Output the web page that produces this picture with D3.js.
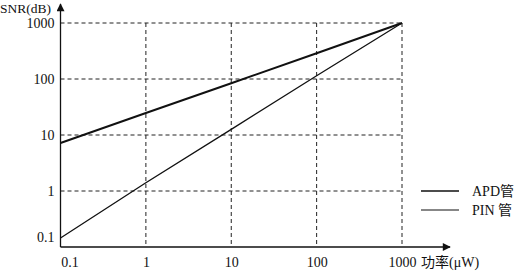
<!DOCTYPE html>
<html>
<head>
<meta charset="utf-8">
<script src="https://cdn.jsdelivr.net/npm/d3@7"></script>
<style>
  body { margin: 0; background: #fff; }
</style>
</head>
<body>
<div id="chart"></div>
<script>
// data
var powerTicks = [0.1, 1, 10, 100, 1000];
var snrTicks = [0.1, 1, 10, 100, 1000];
var power = [0.1, 1, 10, 100, 1000];
var apdSNR = [7.2, 24.7, 84, 288, 1000];
var pinSNR = [0.145, 1.4, 12.6, 114, 1000];
var seriesNames = ["APD管", "PIN 管"];

var width = 515, height = 274;
var serif = "'Liberation Serif', 'Times New Roman', 'Noto Sans CJK SC', serif";

var svg = d3.select("#chart")
  .append("svg")
    .attr("width", width)
    .attr("height", height);

var xScale = d3.scaleLog()
  .domain([0.1, 1000])
  .range([60.5, 402]);

var yScale = d3.scaleLog()
  .domain([0.1, 1000])
  .range([247, 23]);

var x0 = xScale(0.1), y0 = yScale(0.1);

//// grid (dashed)
svg.append("g")
  .selectAll("line")
  .data(powerTicks.slice(1))
  .enter().append("line")
    .attr("x1", d => xScale(d)).attr("x2", d => xScale(d))
    .attr("y1", yScale(1000)).attr("y2", y0)
    .attr("stroke", "#222").attr("stroke-width", 1)
    .attr("stroke-dasharray", "4,3");

svg.append("g")
  .selectAll("line")
  .data(snrTicks.slice(1))
  .enter().append("line")
    .attr("x1", x0).attr("x2", xScale(1000))
    .attr("y1", d => yScale(d)).attr("y2", d => yScale(d))
    .attr("stroke", "#222").attr("stroke-width", 1)
    .attr("stroke-dasharray", "4,3");

//// axes with arrows
svg.append("defs").append("marker")
    .attr("id", "arrow")
    .attr("viewBox", "0 0 10 10")
    .attr("refX", 9).attr("refY", 5)
    .attr("markerWidth", 10).attr("markerHeight", 8)
    .attr("markerUnits", "userSpaceOnUse")
    .attr("orient", "auto")
  .append("path")
    .attr("d", "M0,0 L10,5 L0,10 Z")
    .attr("fill", "#111");

svg.append("line")
  .attr("x1", x0).attr("x2", 450)
  .attr("y1", y0).attr("y2", y0)
  .attr("stroke", "#111").attr("stroke-width", 1.3)
  .attr("marker-end", "url(#arrow)");

svg.append("line")
  .attr("x1", x0).attr("x2", x0)
  .attr("y1", y0).attr("y2", 4)
  .attr("stroke", "#111").attr("stroke-width", 1.3)
  .attr("marker-end", "url(#arrow)");

//// tick labels
var fmt = d => d < 1 ? "0.1" : d3.format("d")(d);

svg.append("g")
  .attr("transform", "translate(0," + y0 + ")")
  .call(d3.axisBottom(xScale).tickValues(powerTicks).tickFormat(fmt).tickSize(0).tickPadding(10))
  .call(g => g.select(".domain").remove())
  .call(g => g.selectAll("text")
    .style("font-family", serif)
    .style("font-size", "14px")
    .attr("fill", "#111")
    .attr("dx", d => d === 0.1 ? 9 : 0));

svg.append("g")
  .attr("transform", "translate(" + x0 + ",0)")
  .call(d3.axisLeft(yScale).tickValues(snrTicks).tickFormat(fmt).tickSize(0).tickPadding(6))
  .call(g => g.select(".domain").remove())
  .call(g => g.selectAll("text")
    .style("font-family", serif)
    .style("font-size", "14px")
    .attr("fill", "#111")
    .attr("y", d => d === 0.1 ? -10 : 0));

//// axis titles
svg.append("text")
  .attr("x", 0).attr("y", 13)
  .style("font-family", serif)
  .style("font-size", "13.5px")
  .attr("fill", "#111")
  .text("SNR(dB)");

svg.append("text")
  .attr("x", 421).attr("y", 267)
  .style("font-family", serif)
  .style("font-size", "14px")
  .attr("fill", "#111")
  .text("功率(μW)");

//// lines
var line = d3.line()
  .x((d, i) => xScale(power[i]))
  .y(d => yScale(d));

svg.append("path")
  .datum(apdSNR)
  .attr("d", line)
  .attr("fill", "none")
  .attr("stroke", "#111")
  .attr("stroke-width", 2);

svg.append("path")
  .datum(pinSNR)
  .attr("d", line)
  .attr("fill", "none")
  .attr("stroke", "#111")
  .attr("stroke-width", 1.3);

//// legend
var legend = svg.append("g")
  .selectAll("g")
  .data(seriesNames)
  .enter().append("g")
    .attr("transform", (d, i) => "translate(421," + (191 + i * 19) + ")");

legend.append("line")
  .attr("x1", 0).attr("x2", 38)
  .attr("stroke", "#111")
  .attr("stroke-width", (d, i) => i === 0 ? 1.5 : 1.2);

legend.append("text")
  .attr("x", 51).attr("y", 5)
  .style("font-family", serif)
  .style("font-size", "14px")
  .attr("fill", "#111")
  .text(d => d);
</script>
</body>
</html>
